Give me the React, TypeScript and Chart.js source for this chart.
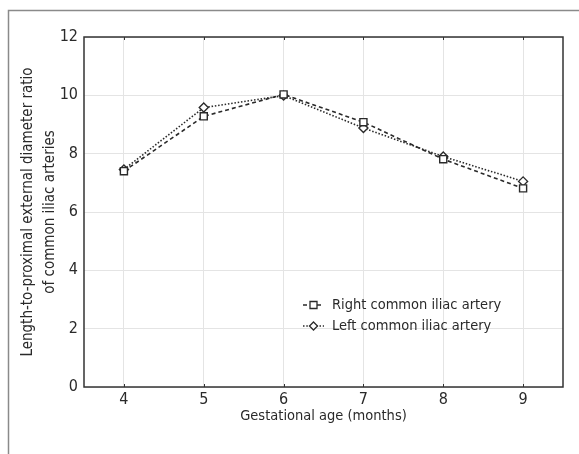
import React, { useEffect, useRef } from "react";
import { Chart, registerables } from "chart.js";

Chart.register(...registerables);

const months = [4, 5, 6, 7, 8, 9];
const rightCIA = [7.4, 9.28, 10.03, 9.08, 7.81, 6.81];
const leftCIA = [7.46, 9.58, 9.99, 8.88, 7.9, 7.05];
const xTicks = [4, 5, 6, 7, 8, 9];
const seriesNames = ["Right common iliac artery", "Left common iliac artery"];
const yTitle = ["Length-to-proximal external diameter ratio", "of common iliac arteries"];
const xTitle = "Gestational age (months)";

const FONT = '"Liberation Sans Narrow", "DejaVu Sans Condensed", "Arial Narrow", sans-serif';
const INK = "#2a2a2a";
const DASHES = [[4, 3], [1.5, 1.8]];
const STYLES = ["rect", "rectRot"];

const framePlugin = {
  id: "frame",
  beforeDraw(chart: any) {
    const { ctx } = chart;
    ctx.save();
    ctx.fillStyle = "#ffffff";
    ctx.fillRect(0, 0, chart.width, chart.height);
    ctx.strokeStyle = "#8a8a8a";
    ctx.lineWidth = 1.5;
    ctx.beginPath();
    ctx.moveTo(8.5, chart.height);
    ctx.lineTo(8.5, 10.5);
    ctx.lineTo(chart.width, 10.5);
    ctx.stroke();
    ctx.restore();
  },
  beforeDatasetsDraw(chart: any) {
    const { ctx, chartArea } = chart;
    ctx.save();
    ctx.strokeStyle = "#333";
    ctx.lineWidth = 1.5;
    ctx.strokeRect(chartArea.left, chartArea.top, chartArea.right - chartArea.left, chartArea.bottom - chartArea.top);
    const xs = chart.scales.x;
    ctx.lineWidth = 1;
    ctx.beginPath();
    xTicks.forEach((v) => {
      const px = Math.round(xs.getPixelForValue(v)) + 0.5;
      ctx.moveTo(px, chartArea.bottom);
      ctx.lineTo(px, chartArea.bottom - 3);
      ctx.moveTo(px, chartArea.top);
      ctx.lineTo(px, chartArea.top + 3);
    });
    ctx.stroke();
    ctx.restore();
  },
  afterDraw(chart: any) {
    const { ctx, chartArea } = chart;
    ctx.save();
    const x0 = chartArea.left + 219;
    const rows = [chartArea.top + 268, chartArea.top + 289];
    chart.data.datasets.forEach((ds: any, i: number) => {
      const y = rows[i];
      ctx.strokeStyle = INK;
      ctx.lineWidth = 1.3;
      ctx.setLineDash(DASHES[i]);
      ctx.beginPath();
      ctx.moveTo(x0, y);
      ctx.lineTo(x0 + 21, y);
      ctx.stroke();
      ctx.setLineDash([]);
      ctx.fillStyle = "#fff";
      ctx.beginPath();
      const cx = x0 + 10.5;
      if (i === 0) {
        ctx.rect(cx - 3.5, y - 3.5, 7, 7);
      } else {
        ctx.moveTo(cx, y - 4);
        ctx.lineTo(cx + 4, y);
        ctx.lineTo(cx, y + 4);
        ctx.lineTo(cx - 4, y);
        ctx.closePath();
      }
      ctx.fill();
      ctx.stroke();
      ctx.fillStyle = INK;
      ctx.font = `14.5px ${FONT}`;
      ctx.textBaseline = "middle";
      ctx.textAlign = "left";
      ctx.fillText(ds.label, x0 + 29, y);
    });
    ctx.restore();
  },
};

export default function App() {
  const ref = useRef<HTMLCanvasElement | null>(null);
  useEffect(() => {
    if (!ref.current) return;
    const series = [rightCIA, leftCIA];
    const chart = new Chart(ref.current, {
      type: "line",
      data: {
        datasets: series.map((vals, i) => ({
          label: seriesNames[i],
          data: months.map((m, j) => ({ x: m, y: vals[j] })),
          borderColor: INK,
          borderWidth: 1.6,
          borderDash: DASHES[i],
          pointStyle: STYLES[i] as any,
          pointRadius: i === 0 ? 5 : 4.5,
          pointBackgroundColor: "#fff",
          pointBorderColor: INK,
          pointBorderWidth: 1.4,
          tension: 0,
          fill: false,
        })),
      },
      options: {
        animation: false,
        responsive: false,
        maintainAspectRatio: false,
        layout: { padding: { top: 37, right: 16, left: 0, bottom: 0 } },
        plugins: { legend: { display: false }, tooltip: { enabled: false } },
        scales: {
          x: {
            type: "linear",
            min: 3.5,
            max: 9.5,
            afterBuildTicks: (s: any) => {
              s.ticks = xTicks.map((v) => ({ value: v }));
            },
            afterFit: (s: any) => {
              s.height = 67;
            },
            grid: { color: "#e4e4e4", lineWidth: 1, drawTicks: false },
            border: { display: false },
            ticks: { color: INK, font: { family: FONT, size: 16 }, padding: 3, maxRotation: 0 },
            title: {
              display: true,
              text: xTitle,
              color: INK,
              font: { family: FONT, size: 14.5, lineHeight: 1.2 },
              padding: { top: 0, bottom: 29 },
            },
          },
          y: {
            min: 0,
            max: 12,
            afterFit: (s: any) => {
              s.width = 84;
            },
            grid: { color: "#e4e4e4", lineWidth: 1, drawTicks: false },
            border: { display: false },
            ticks: { stepSize: 2, color: INK, font: { family: FONT, size: 16 }, padding: 6 },
            title: {
              display: true,
              text: yTitle,
              color: INK,
              font: { family: FONT, size: 15, lineHeight: 1.47 },
              padding: { top: 17, bottom: 0 },
            },
          },
        },
      },
      plugins: [framePlugin],
    });
    return () => chart.destroy();
  }, []);
  return (
    <div style={{ position: "fixed", left: 0, top: 0, width: 579, height: 454 }}>
      <canvas ref={ref} width={579} height={454} style={{ display: "block", width: 579, height: 454 }} />
    </div>
  );
}
